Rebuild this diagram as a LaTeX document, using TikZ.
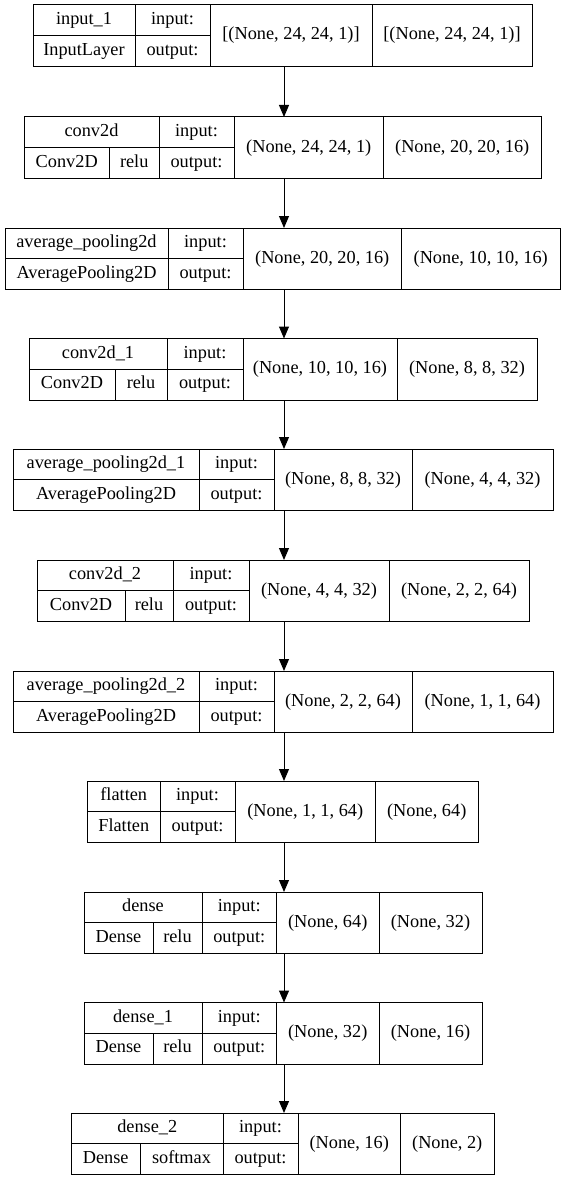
\documentclass[tikz,border=0pt]{standalone}
\usepackage{fontspec}
\setmainfont{Liberation Serif}
\usetikzlibrary{arrows.meta}
\tikzset{
  x=1pt, y=-1pt,
  cellline/.style={draw=black, line width=1pt},
  frame/.style={draw=black, line width=1pt, inner sep=0pt, outer sep=0pt},
  txt/.style={inner sep=0pt, font=\fontsize{18.3}{20}\selectfont, text height=12.5pt, text depth=4pt},
  arr/.style={draw=black, line width=1pt, -{Triangle[length=12pt,width=10pt]}}
}
\newcommand\cell[6]{%
  \draw[cellline] ({#2},{#3}) rectangle ({#4},{#5});
  \node[txt] (#1) at ({(#2+#4)/2},{(#3+#5)/2}) {#6};}
\newcommand\layer[7]{% name, top, x0, x1, x2, x3, x4
  \node[frame, anchor=north west, minimum width={(#7-#3)*1pt}, minimum height=61.5pt] (#1) at (#3,#2) {};
  \cell{#1-in}{#4}{#2}{#5}{#2+30.75}{input:}
  \cell{#1-out}{#4}{#2+30.75}{#5}{#2+61.5}{output:}
  \gdef\Ltop{#2}\gdef\Lxa{#3}\gdef\Lxb{#4}\gdef\Lxc{#5}\gdef\Lxd{#6}\gdef\Lxe{#7}}
\newcommand\lname[2]{\cell{#1-name}{\Lxa}{\Ltop}{\Lxb}{\Ltop+30.75}{#2}}
\newcommand\lclass[2]{\cell{#1-class}{\Lxa}{\Ltop+30.75}{\Lxb}{\Ltop+61.5}{#2}}
\newcommand\lclassact[4]{% name, divider, class, activation
  \cell{#1-class}{\Lxa}{\Ltop+30.75}{#2}{\Ltop+61.5}{#3}
  \cell{#1-act}{#2}{\Ltop+30.75}{\Lxb}{\Ltop+61.5}{#4}}
\newcommand\lshapes[3]{%
  \cell{#1-ishape}{\Lxc}{\Ltop}{\Lxd}{\Ltop+61.5}{#2}
  \cell{#1-oshape}{\Lxd}{\Ltop}{\Lxe}{\Ltop+61.5}{#3}}
\begin{document}
\begin{tikzpicture}
\useasboundingbox[fill=white] (0,0) rectangle (565,1180);
\coordinate (ax) at (284,0);

\layer{L1}{5}{33}{135}{210}{372}{532}
\lname{L1}{input\_1}\lclass{L1}{InputLayer}
\lshapes{L1}{[(None, 24, 24, 1)]}{[(None, 24, 24, 1)]}

\layer{L2}{117}{24}{159}{234}{383.5}{541}
\lname{L2}{conv2d}\lclassact{L2}{109.5}{Conv2D}{relu}
\lshapes{L2}{(None, 24, 24, 1)}{(None, 20, 20, 16)}

\layer{L3}{228}{5}{168}{243}{401.5}{560}
\lname{L3}{average\_pooling2d}\lclass{L3}{AveragePooling2D}
\lshapes{L3}{(None, 20, 20, 16)}{(None, 10, 10, 16)}

\layer{L4}{338.5}{29}{167}{243}{397}{537}
\lname{L4}{conv2d\_1}\lclassact{L4}{115}{Conv2D}{relu}
\lshapes{L4}{(None, 10, 10, 16)}{(None, 8, 8, 32)}

\layer{L5}{449}{13}{199}{274}{412}{553}
\lname{L5}{average\_pooling2d\_1}\lclass{L5}{AveragePooling2D}
\lshapes{L5}{(None, 8, 8, 32)}{(None, 4, 4, 32)}

\layer{L6}{560}{37}{173}{249}{389}{529}
\lname{L6}{conv2d\_2}\lclassact{L6}{125}{Conv2D}{relu}
\lshapes{L6}{(None, 4, 4, 32)}{(None, 2, 2, 64)}

\layer{L7}{671}{13}{199}{274}{412}{553}
\lname{L7}{average\_pooling2d\_2}\lclass{L7}{AveragePooling2D}
\lshapes{L7}{(None, 2, 2, 64)}{(None, 1, 1, 64)}

\layer{L8}{781}{87.5}{160}{235}{375.5}{478}
\lname{L8}{flatten}\lclass{L8}{Flatten}
\lshapes{L8}{(None, 1, 1, 64)}{(None, 64)}

\layer{L9}{892}{84}{202}{276.5}{379}{482}
\lname{L9}{dense}\lclassact{L9}{153}{Dense}{relu}
\lshapes{L9}{(None, 64)}{(None, 32)}

\layer{L10}{1002.5}{84}{202}{276.5}{379}{482}
\lname{L10}{dense\_1}\lclassact{L10}{153}{Dense}{relu}
\lshapes{L10}{(None, 32)}{(None, 16)}

\layer{L11}{1113}{71.5}{223}{298}{400.5}{494}
\lname{L11}{dense\_2}\lclassact{L11}{140}{Dense}{softmax}
\lshapes{L11}{(None, 16)}{(None, 2)}

\foreach \a/\b in {L1/L2,L2/L3,L3/L4,L4/L5,L5/L6,L6/L7,L7/L8,L8/L9,L9/L10,L10/L11}
  \draw[arr] (\a.south -| ax) -- (\b.north -| ax);
\end{tikzpicture}
\end{document}
